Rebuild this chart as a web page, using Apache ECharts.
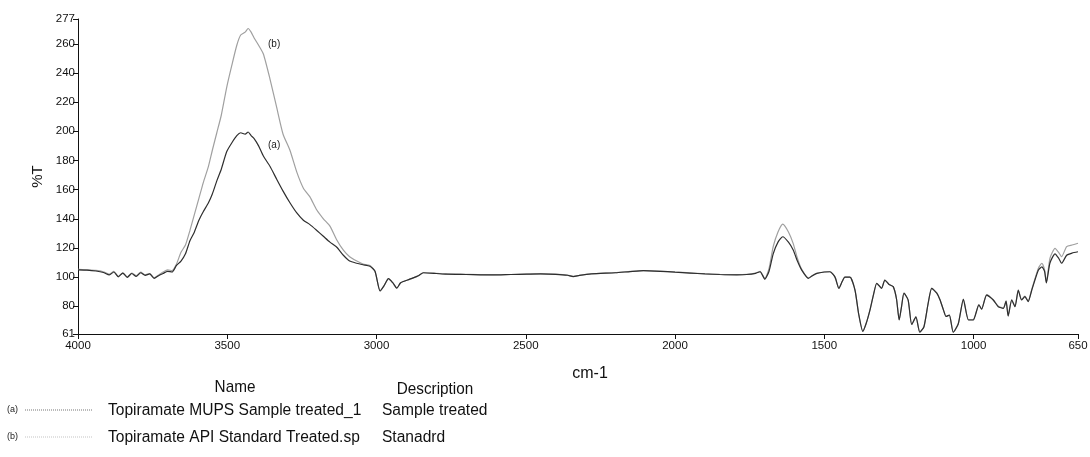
<!DOCTYPE html>
<html>
<head>
<meta charset="utf-8">
<script src="https://cdn.jsdelivr.net/npm/echarts@6/dist/echarts.min.js"></script>
<style>
  html, body { margin: 0; padding: 0; background: #fff; }
  #chart { width: 1090px; height: 457px; }
</style>
</head>
<body>
<div id="chart"></div>
<script>
// IR spectra of topiramate, %T against wavenumber (cm-1)
const wavenumbers = [
  4000, 3970, 3940, 3915, 3895, 3880, 3865, 3850, 3835, 3820, 3805, 3790, 3775, 3760, 3745, 3730, 3715, 3700, 3685, 3670,
  3655, 3640, 3625, 3610, 3595, 3580, 3563, 3550, 3535, 3520, 3502, 3485, 3468, 3455, 3440, 3430, 3420, 3410, 3395, 3379,
  3357, 3334, 3313, 3290, 3267, 3245, 3223, 3200, 3178, 3156, 3133, 3111, 3090, 3066, 3045, 3022, 3005, 2988, 2975, 2960,
  2945, 2932, 2920, 2910, 2890, 2877, 2860, 2843, 2800, 2765, 2700, 2610, 2550, 2497, 2450, 2400, 2360, 2341, 2320, 2280,
  2200, 2150, 2106, 2050, 2000, 1950, 1900, 1850, 1793, 1760, 1730, 1715, 1699, 1685, 1671, 1655, 1639, 1620, 1604, 1590,
  1576, 1553, 1540, 1525, 1500, 1481, 1464, 1451, 1440, 1431, 1414, 1397, 1385, 1371, 1360, 1347, 1335, 1324, 1308, 1297,
  1283, 1269, 1258, 1249, 1241, 1233, 1219, 1207, 1193, 1180, 1166, 1152, 1140, 1123, 1112, 1100, 1092, 1081, 1068, 1051,
  1034, 1017, 1001, 982, 973, 956, 934, 917, 900, 891, 884, 872, 861, 850, 839, 828, 817, 805, 783, 771,
  762, 756, 744, 727, 715, 705, 688, 670, 650
];

// (a) Topiramate MUPS Sample treated_1
const sampleTreated = [
  105, 104.8, 104.2, 103.2, 101.5, 103.5, 100.2, 102.8, 99.8, 102.5, 100.5, 103, 101.2, 102.2, 99.2, 101, 102.5, 104, 103.5, 108,
  111, 116, 125, 131, 139, 145, 151, 157, 166, 174, 186, 192, 197, 199, 198, 199.5, 197, 195, 190, 183,
  176, 167, 159, 151, 144, 139, 136, 132, 128, 124, 120.5, 115, 111, 109.5, 108.5, 107.5, 104, 90.5, 94, 99,
  96, 92.5, 96, 97, 98.5, 99.5, 101, 103, 102.5, 102, 101.8, 101.5, 101.8, 102, 102.2, 101.9, 101.3, 100.4, 101.2, 102.2,
  103, 103.8, 104.4, 104, 103.4, 102.8, 102.2, 101.8, 101.6, 101.8, 102.6, 103.7, 98.6, 104, 116, 124, 127.7, 124, 118.6, 111,
  105, 99.2, 101, 102.6, 103.5, 103.7, 100, 92.3, 97, 100, 100, 91, 75, 62.8, 68, 77.4, 88, 95.8, 92.3, 98,
  95, 93.5, 85, 70.6, 80, 89, 84.3, 67.5, 72.7, 62.2, 66, 82, 92.3, 89, 84.3, 77, 73, 74, 62.2, 68,
  84.8, 70.6, 70.6, 81, 78, 87.7, 84.3, 79.7, 78.6, 83.5, 73.3, 84.3, 79.7, 91, 84.3, 86.6, 83.2, 91, 104.7, 107,
  104, 96, 109.7, 116, 113, 109.5, 115, 116.5, 117.4
];

// (b) Topiramate API Standard Treated.sp
const apiStandard = [
  105.3, 105, 104.6, 103.7, 102, 104, 100.5, 103, 100, 102.8, 101, 103.4, 101.6, 102.5, 99.5, 101.5, 103.5, 105, 104.5, 109,
  117, 122, 132, 143, 154, 165, 176, 187, 199, 211, 230, 245, 259, 266, 268, 270.5, 268, 264, 259, 253,
  236, 216, 198, 187, 172, 161, 155, 146, 140, 135, 125.5, 118.5, 114, 111, 109, 108, 104, 90.5, 94, 99,
  96, 92.5, 96, 97, 98.5, 99.5, 101, 103, 102.6, 102.2, 101.9, 101.6, 101.8, 102.1, 102.2, 102, 101.4, 100.5, 101.3, 102.3,
  103.1, 103.9, 104.5, 104.1, 103.5, 102.9, 102.3, 101.9, 101.7, 101.9, 102.8, 104, 99, 106, 121, 131, 136.4, 131, 123, 113,
  105.5, 99.4, 101, 102.6, 103.5, 103.7, 100, 92.3, 97, 100, 100, 91, 75, 63, 68, 77.4, 88, 95.8, 92.5, 98,
  95, 93.5, 85, 70.8, 80, 89, 84.3, 67.5, 72.7, 62.3, 66, 82, 92.5, 89, 84.3, 77, 73, 74, 62.3, 68,
  85, 70.8, 70.8, 81.2, 78, 88, 84.5, 80, 78.8, 83.8, 73.5, 84.6, 80, 91.3, 84.6, 87, 83.6, 91.5, 106, 109.5,
  105, 96.5, 112.8, 119.7, 117, 114, 120.9, 122, 123.2
];

const xTickValues = [4000, 3500, 3000, 2500, 2000, 1500, 1000, 650];
const yTickValues = [61, 80, 100, 120, 140, 160, 180, 200, 220, 240, 260, 277];

const legendNames = ['Topiramate MUPS Sample treated_1', 'Topiramate API Standard Treated.sp'];
const legendDescriptions = ['Sample treated', 'Stanadrd'];
const legendKeys = ['(a)', '(b)'];

const colorA = '#2e2e2e';
const colorB = '#a0a0a0';
const FONT = '"Liberation Sans", Arial, sans-serif';

const pairs = (vals) => wavenumbers.map((w, i) => [w, vals[i]]);

const chart = echarts.init(document.getElementById('chart'));

// condensed-looking text for the key table below the plot
const narrowText = (x, y, text, size, align) => ({
  type: 'text', x: x, y: y, scaleX: 0.9,
  style: { text: text, font: size + 'px ' + FONT, fill: '#111', textAlign: align || 'left', textVerticalAlign: 'middle' }
});

const legendGraphics = [
  narrowText(235, 387, 'Name', 17, 'center'),
  narrowText(435, 389, 'Description', 17, 'center')
];
[colorA, colorB].forEach((c, i) => {
  const y = 410 + i * 27;
  legendGraphics.push(
    { type: 'text', x: 7, y: y, style: { text: legendKeys[i], font: '9px ' + FONT, fill: '#222', textVerticalAlign: 'middle' } },
    { type: 'line', shape: { x1: 25, y1: y, x2: 93, y2: y }, style: { stroke: i === 0 ? '#777' : '#c4c4c4', lineWidth: 1, lineDash: [1, 1] } },
    narrowText(108, y, legendNames[i], 17.3),
    narrowText(382, y, legendDescriptions[i], 17.3)
  );
});

chart.setOption({
  animation: false,
  backgroundColor: '#ffffff',
  grid: { left: 78, right: 12, top: 19, bottom: 123, containLabel: false, outerBoundsMode: 'none' },
  xAxis: {
    type: 'value',
    inverse: true,
    min: 650,
    max: 4000,
    name: 'cm-1',
    nameLocation: 'middle',
    nameGap: 32,
    nameTextStyle: { fontFamily: FONT, fontSize: 16, color: '#111', padding: [0, 0, 0, 24] },
    axisLine: { show: true, lineStyle: { color: '#111', width: 1 } },
    axisTick: { show: true, length: 5, customValues: xTickValues, lineStyle: { color: '#111' } },
    axisLabel: { customValues: xTickValues, formatter: (v) => String(v), fontFamily: FONT, fontSize: 11.5, color: '#111', margin: 6 },
    splitLine: { show: false }
  },
  yAxis: {
    type: 'value',
    min: 61,
    max: 277,
    name: '%T',
    nameLocation: 'middle',
    nameGap: 33,
    nameRotate: 90,
    nameTextStyle: { fontFamily: FONT, fontSize: 15, color: '#111' },
    axisLine: { show: true, lineStyle: { color: '#111', width: 1 } },
    axisTick: { show: true, length: 5, customValues: yTickValues, lineStyle: { color: '#111' } },
    axisLabel: { customValues: yTickValues, formatter: (v) => String(v), fontFamily: FONT, fontSize: 11.5, color: '#111', margin: 3 },
    splitLine: { show: false }
  },
  series: [
    {
      name: 'b',
      type: 'line',
      data: pairs(apiStandard),
      showSymbol: false,
      smooth: 0.2,
      lineStyle: { color: colorB, width: 1.2 },
      z: 2,
      markPoint: {
        symbolSize: 0,
        label: { show: true, formatter: '(b)', fontFamily: FONT, fontSize: 10, color: '#222' },
        data: [{ coord: [3343, 260] }]
      }
    },
    {
      name: 'a',
      type: 'line',
      data: pairs(sampleTreated),
      showSymbol: false,
      smooth: 0.2,
      lineStyle: { color: colorA, width: 1.2 },
      z: 3,
      markPoint: {
        symbolSize: 0,
        label: { show: true, formatter: '(a)', fontFamily: FONT, fontSize: 10, color: '#222' },
        data: [{ coord: [3343, 190.6] }]
      }
    }
  ],
  graphic: legendGraphics
});
</script>
</body>
</html>
